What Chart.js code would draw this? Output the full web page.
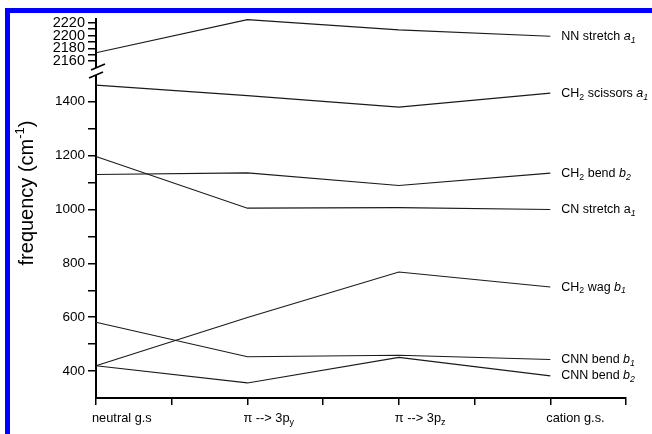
<!DOCTYPE html>
<html>
<head>
<meta charset="utf-8">
<script src="https://cdn.jsdelivr.net/npm/chart.js@4.4.1/dist/chart.umd.min.js"></script>
<style>
  html, body { margin: 0; padding: 0; background: #fff; overflow: hidden; }
  #frame { position: absolute; left: 5px; top: 8px; width: 700px; height: 500px;
           border-left: 5px solid #0000ff; border-top: 5px solid #0000ff; }
  #wrap { position: absolute; left: 0; top: 0; width: 652px; height: 434px; }
</style>
</head>
<body>
<div id="frame"></div>
<div id="wrap"><canvas id="chart" width="652" height="434"></canvas></div>
<script>
// states along the x axis ("_" = subscript, "*" = italic toggle)
const categories = ['neutral g.s', 'π --> 3p_y', 'π --> 3p_z', 'cation g.s.'];

// frequencies in cm-1, one value per state
const nnStretch   = [2173, 2225, 2209, 2199];
const ch2Scissors = [1462, 1423, 1380, 1432];
const ch2Bend     = [1130, 1136, 1089, 1135];
const cnStretch   = [1197, 1005, 1007, 1000];
const ch2Wag      = [420, 599, 768, 712];
const cnnBendB1   = [581, 453, 459, 443];
const cnnBendB2   = [420, 356, 451, 382];

const seriesLabels = [
  'NN stretch *a_1*',
  'CH_2 scissors *a_1*',
  'CH_2 bend *b_2*',
  'CN stretch a*_1*',
  'CH_2 wag *b_1*',
  'CNN bend *b_1*',
  'CNN bend *b_2*'
];

// tick values of the two axis segments
const lowerTicks = [400, 500, 600, 700, 800, 900, 1000, 1100, 1200, 1300, 1400];
const upperTicks = [2160, 2170, 2180, 2190, 2200, 2210, 2220];

const FONT = 'Arial, "Liberation Sans", sans-serif';

const toPoints = arr => arr.map((v, i) => ({ x: i, y: v }));

function drawRich(ctx, markup, x, y, size) {
  let italic = false;
  let cx = x;
  for (let i = 0; i < markup.length; i++) {
    let ch = markup[i];
    if (ch === '*') { italic = !italic; continue; }
    let sub = false;
    if (ch === '_') { sub = true; ch = markup[++i]; }
    const fs = sub ? size * 0.7 : size;
    ctx.font = (italic ? 'italic ' : '') + fs + 'px ' + FONT;
    ctx.fillText(ch, cx, sub ? y + size * 0.32 : y);
    cx += ctx.measureText(ch).width;
  }
}

const decor = {
  id: 'decor',
  afterDraw(chart) {
    const ctx = chart.ctx;
    const xs = chart.scales.x;
    const top = chart.scales.yTop;
    const ax = chart.chartArea.left;
    const yb = top.bottom;
    ctx.save();

    // axis break
    ctx.fillStyle = '#fff';
    ctx.fillRect(ax - 3, yb - 2, 6, 7);
    ctx.strokeStyle = '#000';
    ctx.lineWidth = 1.6;
    ctx.beginPath();
    ctx.moveTo(ax - 5, yb); ctx.lineTo(ax + 9, yb - 6);
    ctx.moveTo(ax - 7, yb + 8); ctx.lineTo(ax + 7, yb + 2);
    ctx.stroke();

    ctx.fillStyle = '#000';
    ctx.textBaseline = 'middle';
    ctx.textAlign = 'left';

    // category labels
    categories.forEach((c, i) => {
      drawRich(ctx, c, xs.getPixelForValue(i) - 4, 418, 12.8);
    });

    // series labels at the end of each line
    chart.data.datasets.forEach((ds, i) => {
      const pts = chart.getDatasetMeta(i).data;
      const last = pts[pts.length - 1];
      drawRich(ctx, seriesLabels[i], last.x + 11, last.y, 12.5);
    });

    // y axis title
    ctx.translate(27, 193);
    ctx.rotate(-Math.PI / 2);
    const a = 'frequency (cm', b = ')';
    ctx.font = '13px ' + FONT;
    const wSup = ctx.measureText('-1').width;
    ctx.font = '20px ' + FONT;
    const wA = ctx.measureText(a).width, wB = ctx.measureText(b).width;
    let sx = -(wA + wSup + wB) / 2;
    ctx.fillText(a, sx, 0);
    sx += wA;
    ctx.font = '13px ' + FONT;
    ctx.fillText('-1', sx, -7);
    sx += wSup;
    ctx.font = '20px ' + FONT;
    ctx.fillText(b, sx, 0);
    ctx.restore();
  }
};

const lineStyle = {
  borderColor: '#1a1a1a',
  borderWidth: 1.1,
  pointRadius: 0,
  fill: false,
  tension: 0,
  clip: false
};

new Chart(document.getElementById('chart'), {
  type: 'line',
  data: {
    datasets: [
      { ...lineStyle, data: toPoints(nnStretch), yAxisID: 'yTop' },
      { ...lineStyle, data: toPoints(ch2Scissors), yAxisID: 'y' },
      { ...lineStyle, data: toPoints(ch2Bend), yAxisID: 'y' },
      { ...lineStyle, data: toPoints(cnStretch), yAxisID: 'y' },
      { ...lineStyle, data: toPoints(ch2Wag), yAxisID: 'y' },
      { ...lineStyle, data: toPoints(cnnBendB1), yAxisID: 'y' },
      { ...lineStyle, data: toPoints(cnnBendB2), yAxisID: 'y' }
    ]
  },
  options: {
    responsive: false,
    animation: false,
    layout: { padding: { top: 19, right: 26, left: 0, bottom: 0 } },
    plugins: { legend: { display: false }, tooltip: { enabled: false } },
    scales: {
      x: {
        type: 'linear',
        position: 'bottom',
        min: 0,
        max: 3.5,
        border: { color: '#000', width: 2 },
        grid: { drawOnChartArea: false, color: '#000', lineWidth: 1.5, tickLength: 7 },
        ticks: { stepSize: 0.5, autoSkip: false, callback: () => '' },
        afterFit: s => { s.height = 36; }
      },
      y: {
        type: 'linear',
        position: 'left',
        stack: 'freq',
        stackWeight: 328,
        min: 300,
        max: 1518,
        border: { color: '#000', width: 2 },
        grid: { drawOnChartArea: false, color: '#000', lineWidth: 1.5, tickLength: 8 },
        ticks: {
          autoSkip: false,
          color: '#000',
          padding: 3,
          font: { size: 13.5, family: FONT },
          callback: v => (v % 200 === 0 ? v : '')
        },
        afterBuildTicks: s => { s.ticks = lowerTicks.map(v => ({ value: v })); },
        afterFit: s => { s.width = 96; }
      },
      yTop: {
        type: 'linear',
        position: 'left',
        stack: 'freq',
        stackWeight: 51,
        min: 2146,
        max: 2226,
        border: { color: '#000', width: 2 },
        grid: { drawOnChartArea: false, color: '#000', lineWidth: 1.5, tickLength: 8 },
        ticks: {
          autoSkip: false,
          color: '#000',
          padding: 3,
          font: { size: 14.5, family: FONT },
          callback: v => (v % 20 === 0 ? v : '')
        },
        afterBuildTicks: s => { s.ticks = upperTicks.map(v => ({ value: v })); },
        afterFit: s => { s.width = 96; }
      }
    }
  },
  plugins: [decor]
});
</script>
</body>
</html>
